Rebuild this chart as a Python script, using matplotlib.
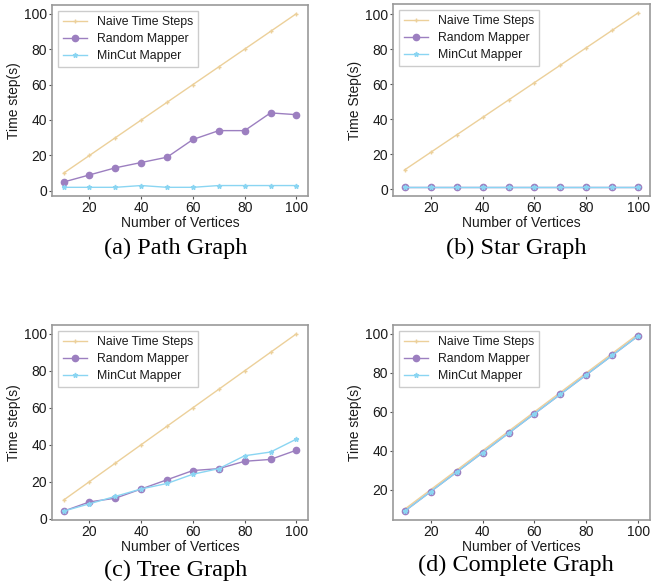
import numpy as np
import matplotlib
matplotlib.use('Agg')
from matplotlib import pyplot as plt
from matplotlib.ticker import MultipleLocator

# Dados
vertices = [10, 20, 30, 40, 50, 60, 70, 80, 90, 100]

path_naive = [10, 20, 30, 40, 50, 60, 70, 80, 90, 100]
path_random = [5, 9, 13, 16, 19, 29, 34, 34, 44, 43]
path_mincut = [2, 2, 2, 3, 2, 2, 3, 3, 3, 3]

star_naive = [11, 21, 31, 41, 51, 61, 71, 81, 91, 101]
star_random = [1, 1, 1, 1, 1, 1, 1, 1, 1, 1]
star_mincut = [1, 1, 1, 1, 1, 1, 1, 1, 1, 1]

tree_naive = [10, 20, 30, 40, 50, 60, 70, 80, 90, 100]
tree_random = [4, 9, 11, 16, 21, 26, 27, 31, 32, 37]
tree_mincut = [4, 8, 12, 16, 19, 24, 27, 34, 36, 43]

complete_naive = [10, 20, 30, 40, 50, 60, 70, 80, 90, 100]
complete_random = [9, 19, 29, 39, 49, 59, 69, 79, 89, 99]
complete_mincut = [9, 19, 29, 39, 49, 59, 69, 79, 89, 99]

series_labels = ['Naive Time Steps', 'Random Mapper', 'MinCut Mapper']
captions = ['(a) Path Graph', '(b) Star Graph', '(c) Tree Graph', '(d) Complete Graph']
ylabels = ['Time step(s)', 'Time Step(s)', 'Time step(s)', 'Time step(s)']

cor_naive = '#ecd09a'
cor_random = '#9c7fc0'
cor_mincut = '#8ad5f2'

plt.rcParams['font.family'] = ['Liberation Sans', 'DejaVu Sans']
plt.rcParams['text.color'] = '#1a1a1a'
plt.rcParams['axes.labelcolor'] = '#1a1a1a'
plt.rcParams['xtick.color'] = '#1a1a1a'
plt.rcParams['ytick.color'] = '#1a1a1a'

fig = plt.figure(figsize=(6.6, 5.85), dpi=100)

#Posições dos eixos em pixels (esquerda, baixo, largura, altura)
W, H = 660.0, 585.0
caixas = [(52, 389, 256, 191), (393, 389, 257, 192),
          (52, 65, 256, 195), (393, 65, 257, 195)]
pos_legenda = [(176, 248), (516, 248), (176, 570), (516, 565)]

dados = [(path_naive, path_random, path_mincut),
         (star_naive, star_random, star_mincut),
         (tree_naive, tree_random, tree_mincut),
         (complete_naive, complete_random, complete_mincut)]

for i, (naive, rand, mincut) in enumerate(dados):
    l, b, w, h = caixas[i]
    ax = fig.add_axes([l / W, b / H, w / W, h / H])
    ax.plot(vertices, naive, color=cor_naive, marker='+', markersize=3.5, lw=1.0, label=series_labels[0])
    ax.plot(vertices, rand, color=cor_random, marker='o', markersize=4.5, lw=1.0, label=series_labels[1])
    ax.plot(vertices, mincut, color=cor_mincut, marker='*', markersize=3.5, lw=1.0, label=series_labels[2])
    ax.set_xticks([20, 40, 60, 80, 100])
    ax.yaxis.set_major_locator(MultipleLocator(20))
    ax.tick_params(labelsize=10, length=2, color='#555555', pad=1.5)
    ax.set_xlabel('Number of Vertices', fontsize=10, labelpad=1)
    ax.set_ylabel(ylabels[i], fontsize=10, labelpad=2)
    for s in ax.spines.values():
        s.set_color('#999999')
        s.set_linewidth(1.2)
    leg = ax.legend(loc='upper left', fontsize=8.8, handlelength=2.0, borderpad=0.4,
                    labelspacing=0.4, handletextpad=0.8, fancybox=False, framealpha=1)
    leg.get_frame().set_edgecolor('#cccccc')
    fig.text(pos_legenda[i][0] / W, 1 - pos_legenda[i][1] / H, captions[i],
             ha='center', va='center', fontsize=17.5, family='Liberation Serif', color='black')

plt.savefig('out.png', dpi=100)
